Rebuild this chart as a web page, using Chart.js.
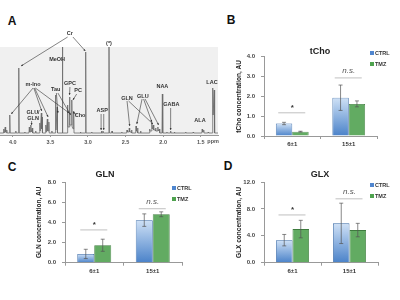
<!DOCTYPE html>
<html>
<head>
<meta charset="utf-8">
<script src="https://cdn.jsdelivr.net/npm/chart.js@4.4.1/dist/chart.umd.min.js"></script>
<style>
  body { margin: 0; background: #fff; }
  #wrap { position: relative; width: 400px; height: 300px; overflow: hidden; font-family: 'Liberation Sans', Arial, sans-serif; }
  .panel { position: absolute; }
  .letter { position: absolute; font-weight: bold; font-size: 12px; line-height: 1; color: #111; transform: translate(-50%, -50%); }
</style>
</head>
<body>
<div id="wrap">
  <div class="letter" style="left:12px;top:21px">A</div>
  <div class="letter" style="left:231px;top:20px">B</div>
  <div class="letter" style="left:12px;top:167px">C</div>
  <div class="letter" style="left:228px;top:166px">D</div>
  <div class="panel" style="left:0;top:0"><canvas id="specChart" width="222" height="150"></canvas></div>
  <div class="panel" style="left:226px;top:40px"><canvas id="tchoChart" width="174" height="115"></canvas></div>
  <div class="panel" style="left:0;top:160px"><canvas id="glnChart" width="200" height="120"></canvas></div>
  <div class="panel" style="left:226px;top:160px"><canvas id="glxChart" width="174" height="120"></canvas></div>
</div>
<script>
// ---- panel A: 1H spectrum (ppm, intensity) ----
const specPpm = [
  4.17, 4.125, 4.12, 4.115, 4.105, 4.10, 4.095, 4.085, 4.08, 4.075,
  4.045, 4.04, 4.035, 3.97, 3.96, 3.955, 3.925, 3.92, 3.915, 3.85, 3.84, 3.835,
  3.785, 3.78, 3.775, 3.765, 3.76, 3.755, 3.745, 3.74, 3.735, 3.70, 3.695, 3.69,
  3.645, 3.64, 3.635, 3.625, 3.62, 3.615, 3.61, 3.605,
  3.565, 3.56, 3.555, 3.545, 3.54, 3.535, 3.525, 3.52, 3.515, 3.485, 3.48, 3.475,
  3.435, 3.43, 3.425, 3.415, 3.41, 3.405, 3.345, 3.34, 3.335,
  3.275, 3.27, 3.265, 3.25, 3.245, 3.24, 3.22, 3.215, 3.21, 3.195, 3.19, 3.185,
  3.105, 3.10, 3.095, 3.035, 3.03, 3.025, 2.955, 2.95, 2.945,
  2.825, 2.82, 2.815, 2.805, 2.80, 2.795, 2.725, 2.72, 2.715, 2.685, 2.68, 2.675,
  2.555, 2.55, 2.545, 2.485, 2.48, 2.475, 2.455, 2.45, 2.445, 2.425, 2.42, 2.415,
  2.365, 2.36, 2.355, 2.345, 2.34, 2.335, 2.305, 2.30, 2.295,
  2.185, 2.18, 2.175, 2.155, 2.15, 2.145, 2.135, 2.13, 2.125, 2.105, 2.10, 2.095,
  2.075, 2.07, 2.065, 2.055, 2.05, 2.045, 2.015, 2.01, 2.005,
  1.955, 1.95, 1.945, 1.905, 1.90, 1.895, 1.855, 1.85, 1.845,
  1.705, 1.70, 1.695, 1.605, 1.60, 1.595, 1.485, 1.48, 1.475, 1.465, 1.46, 1.455,
  1.405, 1.40, 1.395, 1.345, 1.34, 1.335, 1.325, 1.32, 1.315, 1.27
];
const specInt = [
  2, 2, 6, 2, 2, 8, 3, 2, 5, 2,
  2, 20, 2, 2, 4, 2, 2, 67, 2, 2, 3, 2,
  2, 8, 3, 3, 10, 3, 3, 7, 2, 2, 4, 2,
  2, 12, 4, 4, 22, 6, 18, 2,
  2, 10, 3, 3, 16, 4, 4, 13, 2, 2, 4, 2,
  2, 40, 5, 5, 28, 2, 2, 88, 2,
  2, 30, 8, 8, 38, 10, 10, 35, 8, 6, 24, 2,
  2, 3, 2, 2, 83, 2, 2, 3, 2,
  2, 4, 2, 2, 4, 2, 2, 88, 2, 2, 4, 2,
  2, 3, 2, 2, 5, 3, 3, 7, 3, 3, 5, 2,
  2, 9, 4, 4, 7, 2, 2, 4, 2,
  2, 6, 4, 4, 12, 6, 6, 10, 5, 5, 7, 4,
  4, 8, 4, 4, 6, 2, 2, 41, 2,
  2, 3, 2, 2, 4, 2, 2, 3, 2,
  2, 3, 2, 2, 3, 2, 2, 6, 3, 3, 5, 2,
  2, 3, 2, 2, 47, 20, 20, 45, 2, 2
];
const specTicks = [4.0, 3.5, 3.0, 2.5, 2.0, 1.5];

// peak labels (text, ppm, intensity)
const peakNames = ['Cr', '(*)', 'MeOH', 'm-Ino', 'GLU/', 'GLN', 'Tau', 'GPC', 'PC', 'Cho',
                   'ASP', 'GLN', 'GLU', 'NAA', 'GABA', 'ALA', 'LAC'];
const peakNamePpm = [3.24, 2.72, 3.41, 3.73, 3.73, 3.73, 3.43, 3.24, 3.13, 3.105,
                     2.81, 2.48, 2.27, 2.01, 1.89, 1.51, 1.35];
const peakNameInt = [102, 92, 76, 51, 23, 17, 46, 52, 45, 20,
                     25, 37, 39, 49, 31, 15, 53];
// arrows [fromPpm, fromInt, toPpm, toInt]
const peakArrows = [
  [3.27, 98, 3.89, 69], [3.20, 98, 3.035, 84],
  [3.73, 47, 4.02, 21], [3.72, 47, 3.615, 24], [3.71, 47, 3.53, 18], [3.70, 47, 3.25, 22],
  [3.75, 14, 3.75, 10],
  [3.42, 42, 3.40, 22], [3.40, 42, 3.23, 20],
  [3.24, 48, 3.245, 40], [3.15, 41, 3.20, 35], [3.15, 20, 3.20, 23],
  [2.825, 21, 2.825, 5], [2.79, 21, 2.79, 5],
  [2.48, 34, 2.445, 9], [2.46, 34, 2.135, 11],
  [2.28, 36, 2.35, 11], [2.26, 36, 2.15, 13], [2.24, 36, 2.06, 10],
  [1.90, 27, 1.90, 5]
];

// ---- panels B-D: bar charts ----
const groups = ['6\u00b11', '15\u00b11'];
const seriesNames = ['CTRL', 'TMZ'];
const sigLabels = ['*', 'n.s.'];

const tchoCtrl = [0.63, 1.93];
const tchoCtrlErr = [0.06, 0.64];
const tchoTmz = [0.22, 1.62];
const tchoTmzErr = [0.02, 0.15];
const tchoSig = [1.17, 2.93];

const glnCtrl = [0.87, 4.22];
const glnCtrlErr = [0.46, 0.62];
const glnTmz = [1.73, 4.8];
const glnTmzErr = [0.6, 0.24];
const glnSig = [3.25, 5.35];

const glxCtrl = [3.35, 5.85];
const glxCtrlErr = [0.85, 3.0];
const glxTmz = [5.0, 4.85];
const glxTmzErr = [1.3, 1.0];
const glxSig = [7.1, 9.5];

const FONT = "'Liberation Sans', Arial, sans-serif";

const specDecor = {
  id: 'specDecor',
  beforeDatasetsDraw(chart) {
    const { ctx, chartArea: a, scales: { y } } = chart;
    ctx.save();
    ctx.fillStyle = '#f0f0f0';
    const top = y.getPixelForValue(88);
    ctx.fillRect(a.left, top, a.right - a.left, a.bottom - top);
    ctx.restore();
  },
  afterDatasetsDraw(chart) {
    const { ctx, chartArea: a, scales: { x, y } } = chart;
    ctx.save();
    ctx.strokeStyle = '#333';
    ctx.fillStyle = '#333';
    ctx.lineWidth = 0.6;
    peakArrows.forEach(([p0, i0, p1, i1]) => {
      const x0 = x.getPixelForValue(p0), y0 = y.getPixelForValue(i0);
      const x1 = x.getPixelForValue(p1), y1 = y.getPixelForValue(i1);
      ctx.beginPath(); ctx.moveTo(x0, y0); ctx.lineTo(x1, y1); ctx.stroke();
      const ang = Math.atan2(y1 - y0, x1 - x0);
      ctx.beginPath();
      ctx.moveTo(x1, y1);
      ctx.lineTo(x1 - 2.2 * Math.cos(ang - 0.45), y1 - 2.2 * Math.sin(ang - 0.45));
      ctx.lineTo(x1 - 2.2 * Math.cos(ang + 0.45), y1 - 2.2 * Math.sin(ang + 0.45));
      ctx.closePath(); ctx.fill();
    });
    ctx.font = 'bold 5.5px ' + FONT;
    ctx.textAlign = 'center';
    ctx.textBaseline = 'middle';
    peakNames.forEach((t, i) => {
      ctx.fillText(t, x.getPixelForValue(peakNamePpm[i]), y.getPixelForValue(peakNameInt[i]));
    });
    ctx.fillStyle = '#555';
    ctx.fillText('ppm', x.getPixelForValue(1.335), a.bottom + 6);
    ctx.restore();
  }
};

new Chart(document.getElementById('specChart'), {
  type: 'line',
  data: {
    datasets: [{
      data: specPpm.map((p, i) => ({ x: p, y: specInt[i] })),
      borderColor: '#6a6a6a',
      borderWidth: 0.8,
      pointRadius: 0,
      tension: 0
    }]
  },
  options: {
    responsive: false,
    animation: false,
    events: [],
    layout: { padding: { top: 25, left: 0, right: 4, bottom: 0 } },
    plugins: { legend: { display: false }, tooltip: { enabled: false } },
    scales: {
      x: {
        type: 'linear', reverse: true, min: 1.27, max: 4.17,
        afterBuildTicks(s) { s.ticks = specTicks.map(v => ({ value: v })); },
        ticks: { callback: v => v.toFixed(1), font: { family: FONT, size: 5.5, weight: 'bold' }, color: '#555', maxRotation: 0, padding: 2 },
        grid: { drawOnChartArea: false, tickLength: 2, color: '#999' },
        border: { color: '#999' },
        afterFit(s) { s.height = 15; }
      },
      y: { display: false, min: 0, max: 110 }
    }
  },
  plugins: [specDecor]
});

const barDecor = {
  id: 'barDecor',
  afterDatasetsDraw(chart, args, o) {
    const { ctx, chartArea: a, scales: { y } } = chart;
    const metas = [chart.getDatasetMeta(0), chart.getDatasetMeta(1)];
    ctx.save();
    // error bars
    ctx.strokeStyle = '#555';
    ctx.lineWidth = 0.7;
    chart.data.datasets.forEach((ds, di) => {
      metas[di].data.forEach((bar, i) => {
        const yt = y.getPixelForValue(ds.data[i] + ds.errors[i]);
        const yb = y.getPixelForValue(ds.data[i] - ds.errors[i]);
        ctx.beginPath();
        ctx.moveTo(bar.x, yt); ctx.lineTo(bar.x, yb);
        ctx.moveTo(bar.x - 2, yt); ctx.lineTo(bar.x + 2, yt);
        ctx.moveTo(bar.x - 2, yb); ctx.lineTo(bar.x + 2, yb);
        ctx.stroke();
      });
    });
    // significance marks
    ctx.textAlign = 'center';
    ctx.textBaseline = 'bottom';
    o.sig.forEach((lvl, i) => {
      const cx = (metas[0].data[i].x + metas[1].data[i].x) / 2;
      const ly = y.getPixelForValue(lvl);
      ctx.strokeStyle = '#b0b0b0';
      ctx.lineWidth = 0.8;
      ctx.beginPath(); ctx.moveTo(cx - 14, ly); ctx.lineTo(cx + 13, ly); ctx.stroke();
      if (sigLabels[i] === '*') {
        ctx.font = 'bold 8px ' + FONT;
        ctx.fillStyle = '#333';
        ctx.fillText('*', cx, ly - 1);
      } else {
        ctx.font = 'italic 8px ' + FONT;
        ctx.fillStyle = '#555';
        ctx.fillText(sigLabels[i], cx, ly - 3);
      }
    });
    // title
    ctx.textBaseline = 'middle';
    ctx.fillStyle = '#222';
    ctx.font = 'bold 9px ' + FONT;
    ctx.fillText(o.title, o.titleX, o.titleY);
    // y title
    ctx.save();
    ctx.translate(o.yTitleX, (a.top + a.bottom) / 2);
    ctx.rotate(-Math.PI / 2);
    ctx.font = 'bold 6.5px ' + FONT;
    ctx.fillText(o.yTitle, 0, 0);
    ctx.restore();
    // legend
    ctx.textAlign = 'left';
    ctx.font = 'bold 5.5px ' + FONT;
    chart.data.datasets.forEach((ds, di) => {
      const ly = o.legendY + di * 11;
      ctx.fillStyle = ds.legendColor;
      ctx.fillRect(o.legendX - 2, ly - 2, 4, 4);
      ctx.fillStyle = '#333';
      ctx.fillText(ds.label, o.legendX + 3, ly + 0.5);
    });
    ctx.restore();
  }
};

function ctrlFill(c) {
  const chart = c.chart;
  if (!chart.chartArea || c.raw === undefined) return '#7aa6dc';
  const y = chart.scales.y;
  const top = y.getPixelForValue(c.raw), bottom = y.getPixelForValue(0);
  const g = chart.ctx.createLinearGradient(0, top, 0, bottom);
  g.addColorStop(0, '#cfe1f6');
  g.addColorStop(1, '#4a82c9');
  return g;
}

function makeBars(id, cfg) {
  return new Chart(document.getElementById(id), {
    type: 'bar',
    data: {
      labels: groups,
      datasets: [
        { label: seriesNames[0], data: cfg.ctrl, errors: cfg.ctrlErr, legendColor: '#4f86cf',
          backgroundColor: ctrlFill, borderColor: '#3a6aa6', borderWidth: 0.8,
          categoryPercentage: 0.58, barPercentage: 1.0 },
        { label: seriesNames[1], data: cfg.tmz, errors: cfg.tmzErr, legendColor: '#4ea24e',
          backgroundColor: '#62ab62', borderColor: '#3e7b3e', borderWidth: 0.8,
          categoryPercentage: 0.58, barPercentage: 1.0 }
      ]
    },
    options: {
      responsive: false,
      animation: false,
      events: [],
      layout: { padding: { top: cfg.padTop, right: cfg.padRight, left: 0, bottom: 0 } },
      plugins: {
        legend: { display: false },
        tooltip: { enabled: false },
        barDecor: cfg.decor
      },
      scales: {
        x: {
          ticks: { font: { family: FONT, size: 6, weight: 'bold' }, color: '#333', padding: 2 },
          grid: { drawOnChartArea: false, tickLength: 3, color: '#999' },
          border: { color: '#999' },
          afterFit(s) { s.height = cfg.xHeight; }
        },
        y: {
          min: 0, max: cfg.max,
          ticks: { stepSize: cfg.step, callback: v => v.toFixed(1), font: { family: FONT, size: 6, weight: 'bold' }, color: '#444', padding: 6 },
          grid: { drawOnChartArea: false, tickLength: 3, color: '#999' },
          border: { color: '#999' },
          afterFit(s) { s.width = cfg.yWidth; }
        }
      }
    },
    plugins: [barDecor]
  });
}

makeBars('tchoChart', {
  ctrl: tchoCtrl, ctrlErr: tchoCtrlErr, tmz: tchoTmz, tmzErr: tchoTmzErr,
  max: 4, step: 1, padTop: 16.7, padRight: 23, xHeight: 19, yWidth: 38,
  decor: { sig: tchoSig, title: 'tCho', titleX: 94, titleY: 12, yTitle: 'tCho concentration, AU', yTitleX: 13, legendX: 146, legendY: 13 }
});
makeBars('glnChart', {
  ctrl: glnCtrl, ctrlErr: glnCtrlErr, tmz: glnTmz, tmzErr: glnTmzErr,
  max: 8, step: 2, padTop: 22, padRight: 18, xHeight: 17.3, yWidth: 65,
  decor: { sig: glnSig, title: 'GLN', titleX: 105, titleY: 15, yTitle: 'GLN concentration, AU', yTitleX: 39.5, legendX: 174, legendY: 28 }
});
makeBars('glxChart', {
  ctrl: glxCtrl, ctrlErr: glxCtrlErr, tmz: glxTmz, tmzErr: glxTmzErr,
  max: 12, step: 4, padTop: 22, padRight: 22, xHeight: 17.3, yWidth: 38,
  decor: { sig: glxSig, title: 'GLX', titleX: 94, titleY: 15, yTitle: 'GLX concentration, AU', yTitleX: 13, legendX: 146, legendY: 25 }
});
</script>
</body>
</html>
